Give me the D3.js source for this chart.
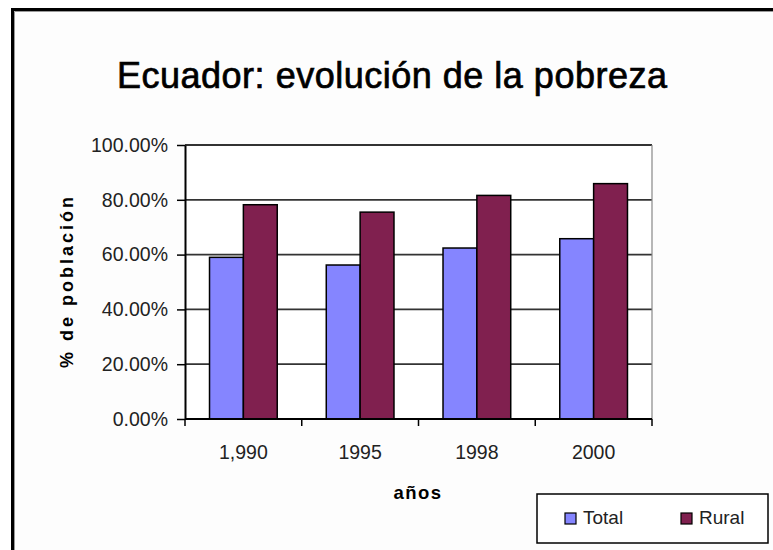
<!DOCTYPE html>
<html>
<head>
<meta charset="utf-8">
<script src="https://cdn.jsdelivr.net/npm/d3@7"></script>
<style>
  body { margin: 0; background: #fff; }
  svg { display: block; font-family: "Liberation Sans", Arial, sans-serif; }
</style>
</head>
<body>
<div id="chart"></div>
<script>
// data
const years = ["1,990", "1995", "1998", "2000"];
const total = [0.590, 0.562, 0.624, 0.658];
const rural = [0.782, 0.755, 0.816, 0.859];
const series = ["Total", "Rural"];
const colors = ["#8585ff", "#80204f"];
const yTicks = [0, 0.2, 0.4, 0.6, 0.8, 1.0];

const width = 773, height = 550;
const margin = {top: 145, bottom: 131, left: 185, right: 121};
const font = "Liberation Sans, Arial, sans-serif";

const svg = d3.select("#chart")
    .append("svg")
    .attr("width", width)
    .attr("height", height);

// outer frame (only top/left edges visible)
svg.append("rect")
    .attr("x", 12.5).attr("y", 9.5)
    .attr("width", width + 20).attr("height", height + 20)
    .attr("fill", "#fdfdfd")
    .attr("stroke", "#000")
    .attr("stroke-width", 3);
svg.append("path")
    .attr("d", `M14.5,${height} V11.5 H${width}`)
    .attr("fill", "none")
    .attr("stroke", "#999")
    .attr("stroke-width", 1);

// title
svg.append("text")
    .attr("x", 392)
    .attr("y", 88)
    .attr("text-anchor", "middle")
    .attr("font-size", 36)
    .attr("fill", "#000")
    .attr("stroke", "#000")
    .attr("stroke-width", 0.7)
    .attr("textLength", 550)
    .text("Ecuador: evolución de la pobreza");

const x0 = d3.scaleBand()
    .domain(years)
    .range([margin.left, width - margin.right]);
const x1 = d3.scaleBand()
    .domain(series)
    .range([x0.bandwidth() * 0.21, x0.bandwidth() * 0.79]);
const y = d3.scaleLinear()
    .domain([0, 1])
    .range([height - margin.bottom, margin.top]);

// plot area
svg.append("rect")
    .attr("x", margin.left).attr("y", margin.top)
    .attr("width", width - margin.right - margin.left)
    .attr("height", height - margin.bottom - margin.top)
    .attr("fill", "#fff");

// gridlines
svg.append("g")
    .selectAll("line")
    .data(yTicks.slice(1))
    .enter()
    .append("line")
    .attr("x1", margin.left).attr("x2", width - margin.right)
    .attr("y1", d => y(d)).attr("y2", d => y(d))
    .attr("stroke", "#333")
    .attr("stroke-width", 1.8);

// right plot border
svg.append("line")
    .attr("x1", width - margin.right).attr("x2", width - margin.right)
    .attr("y1", margin.top).attr("y2", height - margin.bottom)
    .attr("stroke", "#888")
    .attr("stroke-width", 1.2);

// bars
const groups = svg.selectAll(".grp")
    .data(years)
    .enter()
    .append("g")
    .attr("transform", d => `translate(${x0(d)},0)`);

series.forEach((s, k) => {
    const vals = k === 0 ? total : rural;
    groups.append("rect")
        .attr("x", x1(s))
        .attr("y", (d, i) => y(vals[i]))
        .attr("width", x1.bandwidth())
        .attr("height", (d, i) => y(0) - y(vals[i]))
        .attr("fill", colors[k])
        .attr("stroke", "#000")
        .attr("stroke-width", 1.5);
});

// y axis
const yAxis = svg.append("g")
    .attr("transform", `translate(${margin.left},0)`)
    .call(d3.axisLeft(y).tickValues(yTicks).tickFormat(d3.format(".2%")).tickSize(8).tickSizeOuter(0).tickPadding(9));
yAxis.select(".domain").attr("stroke", "#000").attr("stroke-width", 2);
yAxis.selectAll(".tick line").attr("stroke", "#000").attr("stroke-width", 1.5);
yAxis.selectAll("text").attr("font-size", 19.5).attr("fill", "#222")
    .attr("font-family", font);

// x axis with ticks between categories
const xAxis = svg.append("g")
    .attr("transform", `translate(0,${height - margin.bottom})`);
xAxis.append("line")
    .attr("x1", margin.left).attr("x2", width - margin.right)
    .attr("stroke", "#000").attr("stroke-width", 2);
const bounds = years.map(d => x0(d)).concat([x0(years[years.length - 1]) + x0.bandwidth()]);
xAxis.selectAll(".tk")
    .data(bounds)
    .enter()
    .append("line")
    .attr("x1", d => d).attr("x2", d => d)
    .attr("y1", 0).attr("y2", 7)
    .attr("stroke", "#000").attr("stroke-width", 1.5);
xAxis.selectAll(".lbl")
    .data(years)
    .enter()
    .append("text")
    .attr("x", d => x0(d) + x0.bandwidth() / 2)
    .attr("y", 40)
    .attr("text-anchor", "middle")
    .attr("font-size", 19.5)
    .attr("fill", "#222")
    .text(d => d);

// axis titles
svg.append("text")
    .attr("transform", "rotate(-90)")
    .attr("x", -281)
    .attr("y", 73)
    .attr("text-anchor", "middle")
    .attr("font-size", 18)
    .attr("font-weight", "bold")
    .attr("letter-spacing", 3)
    .text("% de población");
svg.append("text")
    .attr("x", 418)
    .attr("y", 499)
    .attr("text-anchor", "middle")
    .attr("font-size", 18.5)
    .attr("font-weight", "bold")
    .attr("letter-spacing", 1.5)
    .text("años");

// legend
const legend = svg.append("g")
    .attr("transform", "translate(537,494)");
legend.append("rect")
    .attr("width", 231).attr("height", 49)
    .attr("fill", "#fff")
    .attr("stroke", "#000")
    .attr("stroke-width", 1.5);
series.forEach((s, k) => {
    legend.append("rect")
        .attr("x", 28 + k * 116).attr("y", 19)
        .attr("width", 11).attr("height", 11)
        .attr("fill", colors[k])
        .attr("stroke", "#000")
        .attr("stroke-width", 1.2);
    legend.append("text")
        .attr("x", 46 + k * 116).attr("y", 30)
        .attr("font-size", 19)
        .attr("fill", "#222")
        .text(s);
});
</script>
</body>
</html>
